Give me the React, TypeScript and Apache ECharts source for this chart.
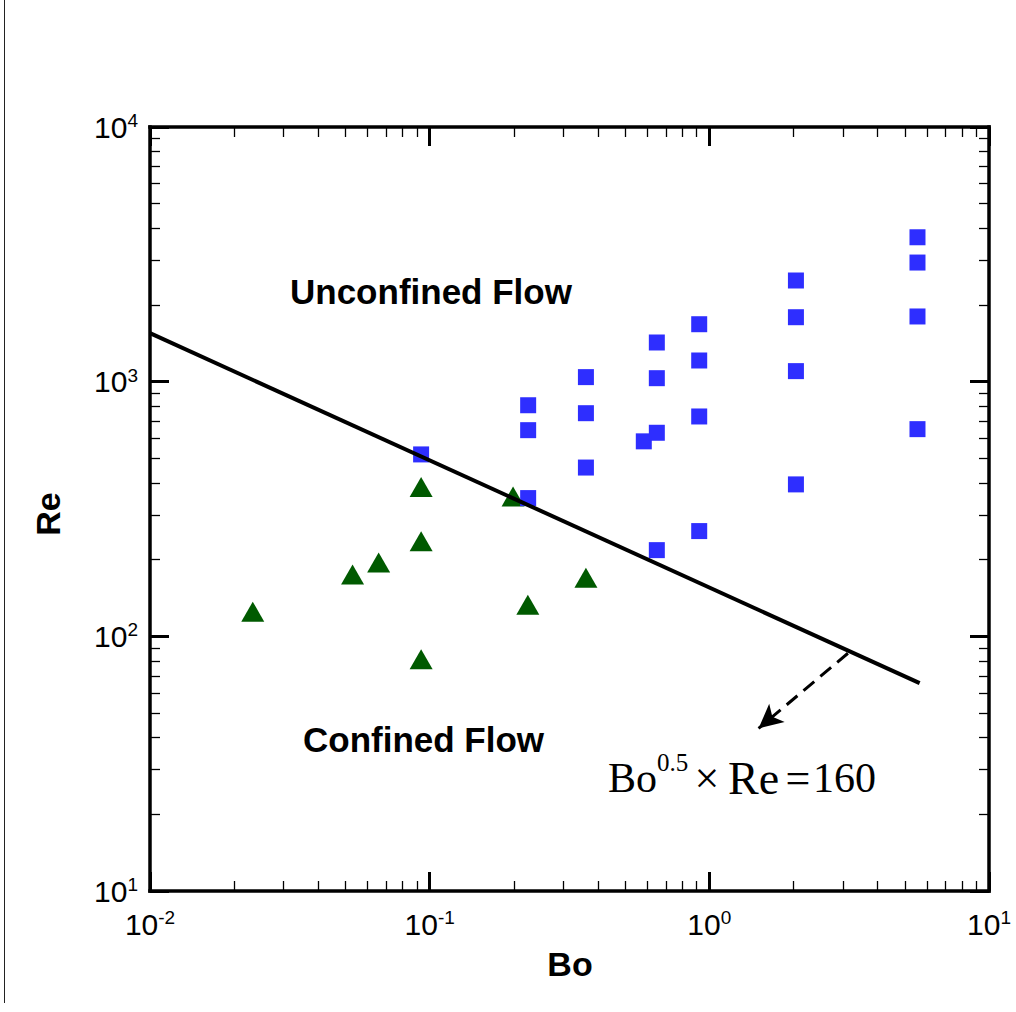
import React, { useEffect, useRef } from 'react';
import * as echarts from 'echarts';

// ---- data ----
const squareBo = [0.0932, 0.225, 0.225, 0.225, 0.362, 0.362, 0.362, 0.583, 0.649, 0.649, 0.649, 0.649, 0.92, 0.92, 0.92, 0.92, 2.04, 2.04, 2.04, 2.04, 5.55, 5.55, 5.55, 5.55];
const squareRe = [518, 808, 645, 349, 1042, 752, 460, 583, 1425, 1032, 630, 218, 1681, 1211, 730, 259, 2496, 1791, 1100, 395, 3690, 2936, 1803, 651];

const triangleBo = [0.0233, 0.053, 0.0657, 0.0932, 0.0932, 0.0932, 0.1987, 0.2244, 0.362];
const triangleRe = [125, 175, 195, 386, 236, 81.2, 354, 133, 170];

// boundary line Bo^0.5 x Re = 160 (end points)
const boundaryBo = [0.01, 5.65];
const boundaryRe = [1550, 65.5];

// dashed arrow from the boundary line toward the formula
const arrowFrom = [3.13, 85.8];
const arrowTo = [1.5, 43.5];

// tick values
const xMajorTicks = [0.01, 0.1, 1, 10];
const xMinorTicks = [0.02, 0.03, 0.04, 0.05, 0.06, 0.07, 0.08, 0.09, 0.2, 0.3, 0.4, 0.5, 0.6, 0.7, 0.8, 0.9, 2, 3, 4, 5, 6, 7, 8, 9];
const yMajorTicks = [10, 100, 1000, 10000];
const yMinorTicks = [20, 30, 40, 50, 60, 70, 80, 90, 200, 300, 400, 500, 600, 700, 800, 900, 2000, 3000, 4000, 5000, 6000, 7000, 8000, 9000];

const SANS = "'Liberation Sans', Arial, Helvetica, sans-serif";
const SERIF = "'Liberation Serif', 'Times New Roman', serif";

const supLabel = (v: number) => `{b|10}{s|${Math.round(Math.log10(v))}}`;
const rich = {
  b: { fontSize: 30, fontFamily: SANS, color: '#000', lineHeight: 32 },
  s: { fontSize: 19, fontFamily: SANS, color: '#000', lineHeight: 19, verticalAlign: 'top' },
};

function makeAxis(dim: 'x' | 'y', position: string, major: boolean, withLine: boolean, withLabel: boolean) {
  const isX = dim === 'x';
  const majors = isX ? xMajorTicks : yMajorTicks;
  const minors = isX ? xMinorTicks : yMinorTicks;
  return {
    type: 'log',
    logBase: 10,
    min: isX ? 0.01 : 10,
    max: isX ? 10 : 10000,
    position,
    axisLine: { show: withLine, onZero: false, lineStyle: { color: '#000', width: 3.5, cap: 'square' } },
    axisTick: {
      show: true,
      inside: true,
      length: major ? 19 : 10,
      customValues: major ? majors : minors,
      lineStyle: { color: '#000', width: major ? 3 : 1.3 },
    },
    axisLabel: withLabel
      ? { show: true, customValues: majors, formatter: supLabel, rich, margin: isX ? 17 : 12 }
      : { show: false },
    splitLine: { show: false },
    minorTick: { show: false },
    minorSplitLine: { show: false },
  };
}

export default function App() {
  const ref = useRef<HTMLDivElement>(null);
  useEffect(() => {
    if (!ref.current) return;
    const chart = echarts.init(ref.current, undefined, { renderer: 'svg' });
    const squares = squareBo.map((b, i) => [b, squareRe[i]]);
    const triangles = triangleBo.map((b, i) => [b, triangleRe[i]]);
    const boundary = boundaryBo.map((b, i) => [b, boundaryRe[i]]);

    const formulaY = 778;
    chart.setOption({
      animation: false,
      backgroundColor: '#fff',
      grid: { left: 150, right: 27, top: 127, bottom: 121, containLabel: false, outerBoundsMode: 'none' },
      xAxis: [
        makeAxis('x', 'bottom', true, true, true),
        makeAxis('x', 'bottom', false, false, false),
        makeAxis('x', 'top', true, true, false),
        makeAxis('x', 'top', false, false, false),
      ],
      yAxis: [
        makeAxis('y', 'left', true, true, true),
        makeAxis('y', 'left', false, false, false),
        makeAxis('y', 'right', true, true, false),
        makeAxis('y', 'right', false, false, false),
      ],
      series: [
        {
          name: 'Confined',
          type: 'scatter',
          data: triangles,
          symbol: 'triangle',
          symbolSize: [23, 20],
          itemStyle: { color: '#005A00', opacity: 1 },
          silent: true,
        },
        {
          name: 'Boundary',
          type: 'line',
          data: boundary,
          showSymbol: false,
          symbol: 'none',
          lineStyle: { color: '#000', width: 4 },
          silent: true,
          markLine: {
            silent: true,
            symbol: ['none', 'arrow'],
            symbolSize: [18, 24],
            label: { show: false },
            lineStyle: { color: '#000', width: 3, type: [14, 8] },
            emphasis: { disabled: true },
            data: [[{ coord: arrowFrom }, { coord: arrowTo }]],
          },
        },
        {
          name: 'Unconfined',
          type: 'scatter',
          data: squares,
          symbol: 'rect',
          symbolSize: 16,
          itemStyle: { color: '#2E2EFF', opacity: 1 },
          silent: true,
        },
      ],
      graphic: [
        { type: 'line', shape: { x1: 4.5, y1: 0, x2: 4.5, y2: 1003 }, style: { stroke: '#222', lineWidth: 1 } },
        { type: 'text', x: 290, y: 291.5, style: { text: 'Unconfined Flow', font: `bold 35px ${SANS}`, fill: '#000', align: 'left', verticalAlign: 'middle' } },
        { type: 'text', x: 303, y: 739, style: { text: 'Confined Flow', font: `bold 35px ${SANS}`, fill: '#000', align: 'left', verticalAlign: 'middle' } },
        { type: 'text', x: 570, y: 964, style: { text: 'Bo', font: `bold 34px ${SANS}`, fill: '#000', align: 'center', verticalAlign: 'middle' } },
        { type: 'text', x: 48, y: 514, rotation: Math.PI / 2, style: { text: 'Re', font: `bold 34px ${SANS}`, fill: '#000', align: 'center', verticalAlign: 'middle' } },
        { type: 'text', x: 608, y: formulaY, style: { text: 'Bo', font: `42px ${SERIF}`, fill: '#000', align: 'left', verticalAlign: 'middle' } },
        { type: 'text', x: 657, y: 762, style: { text: '0.5', font: `25px ${SERIF}`, fill: '#000', align: 'left', verticalAlign: 'middle' } },
        { type: 'text', x: 707, y: formulaY, style: { text: '×', font: `44px ${SERIF}`, fill: '#000', align: 'center', verticalAlign: 'middle' } },
        { type: 'text', x: 728, y: formulaY, style: { text: 'Re', font: `46px ${SERIF}`, fill: '#000', align: 'left', verticalAlign: 'middle' } },
        { type: 'text', x: 798, y: formulaY, style: { text: '=', font: `44px ${SERIF}`, fill: '#000', align: 'center', verticalAlign: 'middle' } },
        { type: 'text', x: 813, y: formulaY, style: { text: '160', font: `42px ${SERIF}`, fill: '#000', align: 'left', verticalAlign: 'middle' } },
      ],
    });
    return () => chart.dispose();
  }, []);
  return <div ref={ref} style={{ position: 'fixed', left: 0, top: 0, width: 1016, height: 1012 }} />;
}
